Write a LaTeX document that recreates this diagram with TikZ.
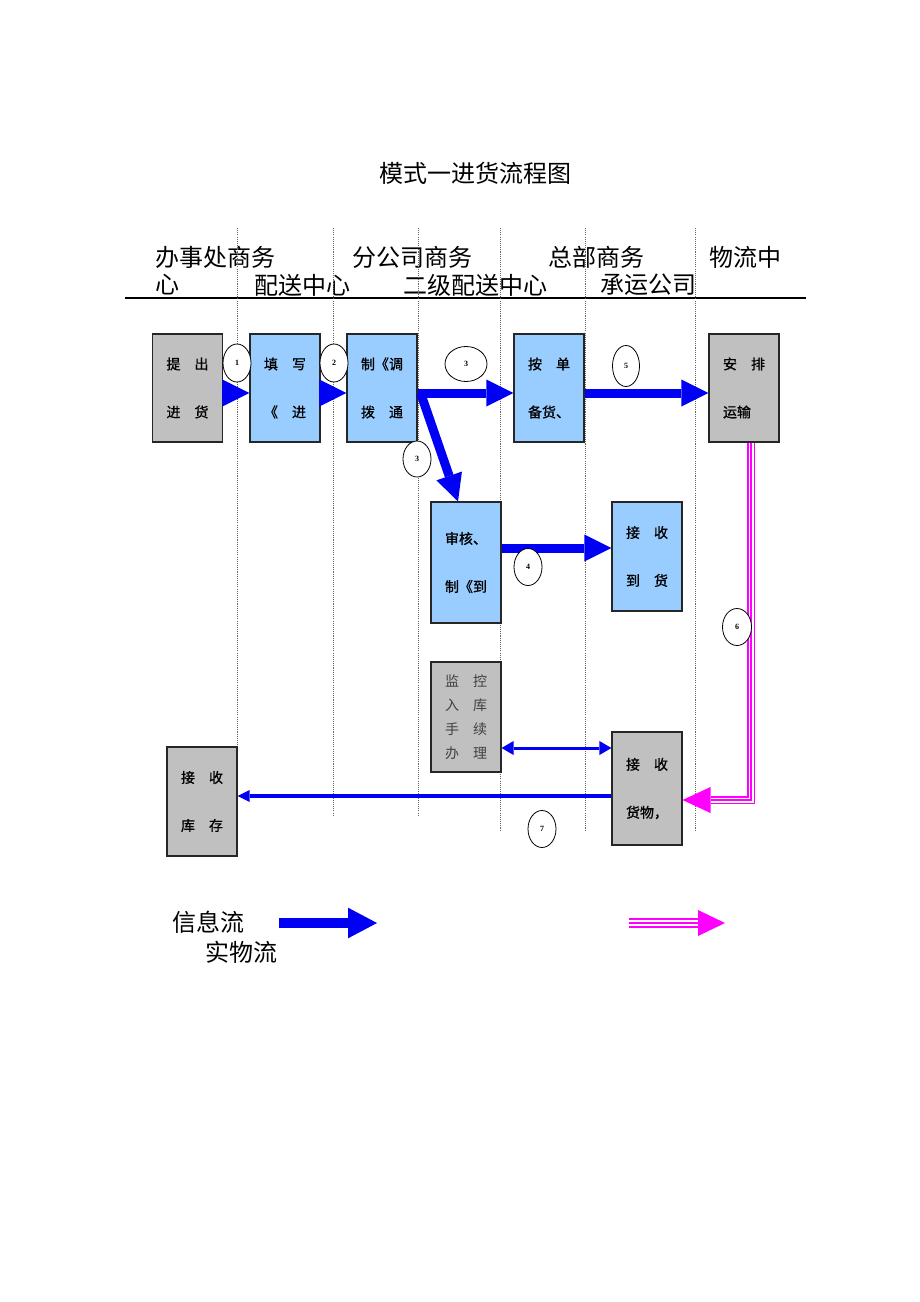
\documentclass[tikz,border=0pt]{standalone}
\usepackage{fontspec}
\setmainfont{Liberation Serif}
\newfontfamily\cjk{Noto Sans CJK SC}
\newfontfamily\cjkbox[FakeBold=1]{Noto Sans CJK SC}
\usetikzlibrary{arrows.meta,shapes.geometric,calc}
\definecolor{boxblue}{RGB}{153,204,255}
\definecolor{boxgray}{RGB}{192,192,192}
\definecolor{infoblue}{RGB}{0,0,245}
\definecolor{physmag}{RGB}{255,0,255}
\begin{document}
\begin{tikzpicture}[x=0.75pt,y=-0.75pt,
  box/.style={draw=black!85,line width=0.8pt,inner sep=0pt,minimum width=52.5pt,
    font=\cjkbox\fontsize{10.5}{36}\selectfont,align=center},
  bluebox/.style={box,fill=boxblue},
  graybox/.style={box,fill=boxgray},
  num/.style={ellipse,draw,fill=white,line width=0.6pt,inner sep=0pt,
    font=\bfseries\fontsize{6}{6}\selectfont},
  lane/.style={draw=black!60,line width=0.5pt,dash pattern=on 0.8pt off 0.8pt},
  hdr/.style={inner sep=0pt,anchor=west,font=\cjk\fontsize{18}{18}\selectfont},
  info/.style={draw=infoblue,line width=6.75pt,
    -{Triangle[length=20.25pt,width=20.25pt,line width=0pt]}},
  thin/.style={draw=infoblue,line width=3pt,-{Triangle[length=9pt,width=9pt,line width=0pt]}},
  phA/.style={draw=physmag,line width=6pt,line join=miter},
  phB/.style={draw=white,line width=3.75pt,line join=miter},
  phC/.style={draw=physmag,line width=1.1pt,line join=miter},
  phtip/.style={draw=physmag,line width=0.1pt,-{Triangle[length=21pt,width=19.5pt,line width=0pt]}}
]
\useasboundingbox (0,0) rectangle (920,1302);
\fill[white] (0,0) rectangle (920,1302);

% title and lane headers
\node[inner sep=0pt,font=\cjk\fontsize{18}{18}\selectfont] (title) at (475,173) {模式一进货流程图};
\node[hdr] (h1a) at (155,257) {办事处商务};
\node[hdr] (h1b) at (155,285) {心};
\node[hdr] (h2a) at (352,257) {分公司商务};
\node[hdr] (h2b) at (254,285) {配送中心};
\node[hdr] (h3a) at (548,257) {总部商务};
\node[hdr] (h3b) at (403,285) {二级配送中心};
\node[hdr] (h4a) at (709,257) {物流中};
\node[hdr] (h4b) at (600,285) {承运公司};
\draw[line width=1.1pt] (125,298) -- (806,298);

% lane separators
\draw[lane] (237,228) -- (237,747);
\draw[lane] (333,228) -- (333,815);
\draw[lane] (418,228) -- (418,815);
\draw[lane] (500,228) -- (500,830);
\draw[lane] (585,228) -- (585,830);
\draw[lane] (695,228) -- (695,830);

% boxes
\node[graybox,minimum height=81pt] (b1) at (187.5,388) {提\quad 出\\进\quad 货};
\node[bluebox,minimum height=81pt] (b2) at (285,388) {填\quad 写\\《\quad 进};
\node[bluebox,minimum height=81pt] (b3) at (382,388) {制《调\\拨\quad 通};
\node[bluebox,minimum height=81pt] (b4) at (549,388) {按\quad 单\\备货、};
\node[graybox,minimum height=81pt,align=left] (b5) at (744,388) {安\quad 排\\运输};
\node[bluebox,minimum height=90.75pt] (b6) at (466,562.5) {审核、\\制《到};
\node[bluebox,minimum height=81.75pt] (b7) at (647,556.5) {接\quad 收\\到\quad 货};
\node[graybox,minimum height=82.5pt,text=black!75,font=\cjk\fontsize{10.5}{18}\selectfont] (b8) at (466,717) {监\quad 控\\入\quad 库\\手\quad 续\\办\quad 理};
\node[graybox,minimum height=84.75pt] (b9) at (647,788.5) {接\quad 收\\货物，};
\node[graybox,minimum height=81.75pt] (b10) at (202,801.5) {接\quad 收\\库\quad 存};

% row levels
\coordinate (rA) at (0,393);
\coordinate (rB) at (0,548);
\coordinate (rC) at (0,748);
\coordinate (rD) at (0,796);
\coordinate (corner) at (751,800);

% information flow
\draw[info] (b1.east |- rA) -- (b2.west |- rA);
\draw[info] (b2.east |- rA) -- (b3.west |- rA);
\draw[info] (b3.east |- rA) -- (b4.west |- rA);
\draw[info] ($(b3.east |- rA)+(3,0)$) -- ($(b6.north)+(-8,0)$);
\draw[info] (b4.east |- rA) -- (b5.west |- rA);
\draw[info] (b6.east |- rB) -- (b7.west |- rB);
\draw[draw=infoblue,line width=2.25pt,
  {Triangle[length=9pt,width=10.5pt,line width=0pt]}-{Triangle[length=9pt,width=10.5pt,line width=0pt]}]
  (b8.east |- rC) -- (b9.west |- rC);
\draw[thin] (b9.west |- rD) -- (b10.east |- rD);

% physical flow
\coordinate (pend) at ($(b9.east |- corner)+(28,0)$);
\draw[phA] (b5.south -| corner) -- (corner) -- (pend);
\draw[phB] (b5.south -| corner) -- (corner) -- (pend);
\draw[phC] (b5.south -| corner) -- (corner) -- (pend);
\draw[phtip] (pend) -- (b9.east |- corner);

% step numbers
\node[num,minimum width=21pt,minimum height=28.5pt] (e1) at (237,363) {1};
\node[num,minimum width=21pt,minimum height=28.5pt] (e2) at (334,363) {2};
\node[num,minimum width=31.5pt,minimum height=26.25pt] (e3a) at (466,364) {3};
\node[num,minimum width=21pt,minimum height=27pt] (e3b) at (417,459) {3};
\node[num,minimum width=20.25pt,minimum height=30.75pt] (e5) at (626,366) {5};
\node[num,minimum width=21pt,minimum height=27.75pt] (e4) at (528,567) {4};
\node[num,minimum width=21.75pt,minimum height=27.75pt] (e6) at (737,627) {6};
\node[num,minimum width=21pt,minimum height=27.75pt] (e7) at (542,829) {7};

% legend
\node[hdr] (l1) at (172,922) {信息流};
\node[hdr] (l2) at (205,952) {实物流};
\coordinate (la) at (279,923);
\coordinate (lb) at (377,923);
\draw[draw=infoblue,line width=7.5pt,-{Triangle[length=21.75pt,width=23pt,line width=0pt]}] (la) -- (lb);
\coordinate (lc) at (629,923);
\coordinate (ld) at (698,923);
\coordinate (le) at (725,923);
\draw[draw=physmag,line width=7.5pt] (lc) -- (ld);
\draw[draw=white,line width=4.9pt] (lc) -- (ld);
\draw[draw=physmag,line width=1.5pt] (lc) -- (ld);
\draw[draw=physmag,line width=0.1pt,-{Triangle[length=20.25pt,width=19.5pt,line width=0pt]}] (ld) -- (le);
\end{tikzpicture}
\end{document}
